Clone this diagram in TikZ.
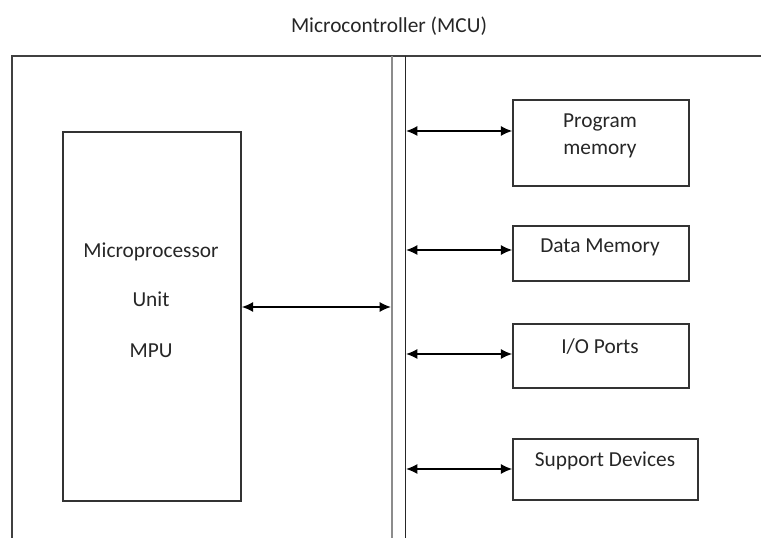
\documentclass[tikz,border=0pt]{standalone}
\usepackage{fontspec}
\setmainfont{Carlito}
\usetikzlibrary{arrows.meta}
\begin{document}
\begin{tikzpicture}[x=0.75pt,y=-0.75pt,
  frame/.style={draw=black!75,line width=1.2pt},
  box/.style={draw=black!80,line width=1.1pt,rectangle,inner sep=0pt},
  lbl/.style={text=black!85,font=\fontsize{16pt}{19pt}\selectfont,inner sep=0pt},
  arr/.style={draw=black,line width=1.1pt,{Latex[length=8.5pt,width=7.5pt]}-{Latex[length=8.5pt,width=7.5pt]}}]
\useasboundingbox (0,0) rectangle (761,538);
% title
\node[lbl] (title) at (389,26) {Microcontroller (MCU)};
% outer frame
\draw[frame] (12,538) -- (12,56) -- (761,56);
% bus
\coordinate (busLtop) at (392,56);
\coordinate (busLbot) at (392,538);
\coordinate (busRtop) at (405.5,56);
\coordinate (busRbot) at (405.5,538);
\draw[draw=black!45,line width=1.7pt] (busLtop) -- (busLbot);
\draw[draw=black!85,line width=1.1pt] (busRtop) -- (busRbot);
% boxes
\node[box,minimum width=133.5pt,minimum height=276.75pt] (mpu) at (152,316.5) {};
\node[box,minimum width=132pt,minimum height=64.5pt] (pm) at (601,143) {};
\node[box,minimum width=132pt,minimum height=41.25pt] (dm) at (601,253.5) {};
\node[box,minimum width=132pt,minimum height=48pt] (io) at (601,356) {};
\node[box,minimum width=138.75pt,minimum height=45.75pt] (sd) at (605.5,469.5) {};
% labels
\node[lbl] (t1) at (151,251.5) {Microprocessor};
\node[lbl] (t2) at (151,299.5) {Unit};
\node[lbl] (t3) at (151,350.5) {MPU};
\node[lbl] (p1) at (600,122.5) {Program};
\node[lbl] (p2) at (600,151.5) {memory};
\node[lbl] (d1) at (600,247.5) {Data Memory};
\node[lbl] (i1) at (600,346.5) {I/O Ports};
\node[lbl] (s1) at (605,460.5) {Support Devices};
% connectors
\coordinate (bm) at (391,307);
\coordinate (b1) at (406,131);
\coordinate (b2) at (406,250);
\coordinate (b3) at (406,354);
\coordinate (b4) at (406,469);
\draw[arr] (bm -| mpu.east) -- (bm);
\draw[arr] (b1) -- (b1 -| pm.west);
\draw[arr] (b2) -- (b2 -| dm.west);
\draw[arr] (b3) -- (b3 -| io.west);
\draw[arr] (b4) -- (b4 -| sd.west);
\end{tikzpicture}
\end{document}
